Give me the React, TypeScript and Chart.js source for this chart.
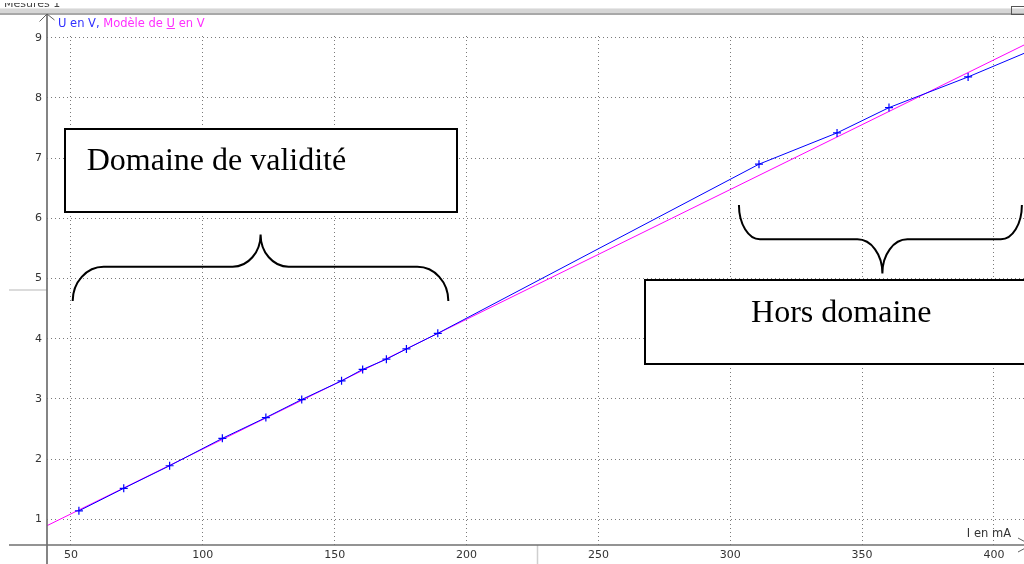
import React, { useEffect, useRef } from "react";
import { Chart, registerables } from "chart.js";

Chart.register(...registerables);

// Measured points (I in mA, U in V)
const currentMA = [53.0, 70.0, 87.4, 107.4, 123.9, 137.5, 152.6, 160.6, 169.6, 177.2, 189.1, 310.9, 340.5, 360.2, 390.2, 420.0];
const voltageV = [1.14, 1.515, 1.89, 2.345, 2.69, 2.99, 3.3, 3.49, 3.66, 3.83, 4.09, 6.9, 7.42, 7.84, 8.35, 8.9];

// Model line (end points)
const modelCurrentMA = [40.9, 411.4];
const modelVoltageV = [0.894, 8.88];

const xTickValues = [50, 100, 150, 200, 250, 300, 350, 400];
const yTickValues = [1, 2, 3, 4, 5, 6, 7, 8, 9];

const X_MIN = 40.9;
const X_MAX = 411.4;
const Y_MIN = 0.573;
const Y_MAX = 9.03;

// Annotations in data units
const validityBox = { i0: 47.84, i1: 196.5, u0: 6.11, u1: 7.483, textI: 55.95, textU: 6.802, label: "Domaine de validité" };
const outsideBox = { i0: 267.7, i1: 420, u0: 3.58, u1: 4.975, textI: 307.9, textU: 4.282, label: "Hors domaine" };
const validityBrace = { iL: 50.64, iR: 193.1, iTip: 121.9, uEnd: 4.626, uBar: 5.196, uTip: 5.734, rEnd: 31, rTip: 28 };
const outsideBrace = { iL: 303.3, iR: 410.6, iTip: 357.7, uEnd: 6.221, uBar: 5.651, uTip: 5.086, rEnd: 21, rTip: 25 };

const BLUE = "#0000ff";
const MAGENTA = "#ff00ff";

function drawBrace(ctx: CanvasRenderingContext2D, xL: number, xR: number, xTip: number, yEnd: number, yBar: number, yTip: number, rEnd: number, rTip: number) {
  const k = 0.448;
  ctx.beginPath();
  ctx.moveTo(xL, yEnd);
  ctx.bezierCurveTo(xL, yBar + k * (yEnd - yBar), xL + k * rEnd, yBar, xL + rEnd, yBar);
  ctx.lineTo(xTip - rTip, yBar);
  ctx.bezierCurveTo(xTip - k * rTip, yBar, xTip, yBar + k * (yTip - yBar), xTip, yTip);
  ctx.bezierCurveTo(xTip, yBar + k * (yTip - yBar), xTip + k * rTip, yBar, xTip + rTip, yBar);
  ctx.lineTo(xR - rEnd, yBar);
  ctx.bezierCurveTo(xR - k * rEnd, yBar, xR, yBar + k * (yEnd - yBar), xR, yEnd);
  ctx.stroke();
}

const decorPlugin = {
  id: "decor",
  beforeDraw(chart: any) {
    const ctx = chart.ctx as CanvasRenderingContext2D;
    ctx.save();
    ctx.fillStyle = "#ffffff";
    ctx.fillRect(0, 0, chart.width, chart.height);
    ctx.restore();
  },
  afterDatasetsDraw(chart: any) {
    const ctx = chart.ctx as CanvasRenderingContext2D;
    const xs = chart.scales.x;
    const ys = chart.scales.y;
    const px = (v: number) => xs.getPixelForValue(v);
    const py = (v: number) => ys.getPixelForValue(v);
    ctx.save();
    // boxes
    for (const b of [validityBox, outsideBox]) {
      const x0 = Math.round(px(b.i0));
      const x1 = Math.round(px(b.i1));
      const y0 = Math.round(py(b.u1));
      const y1 = Math.round(py(b.u0));
      ctx.fillStyle = "#ffffff";
      ctx.fillRect(x0, y0, x1 - x0, y1 - y0);
      ctx.strokeStyle = "#000000";
      ctx.lineWidth = 2;
      ctx.strokeRect(x0, y0, x1 - x0, y1 - y0);
      ctx.fillStyle = "#000000";
      ctx.font = "32px 'Liberation Serif', 'Times New Roman', serif";
      ctx.textAlign = "left";
      ctx.textBaseline = "alphabetic";
      ctx.fillText(b.label, px(b.textI), py(b.textU));
    }
    // braces
    ctx.strokeStyle = "#000000";
    ctx.lineWidth = 2;
    for (const br of [validityBrace, outsideBrace]) {
      drawBrace(ctx, px(br.iL), px(br.iR), px(br.iTip), py(br.uEnd), py(br.uBar), py(br.uTip), br.rEnd, br.rTip);
    }
    ctx.restore();
  },
  afterDraw(chart: any) {
    const ctx = chart.ctx as CanvasRenderingContext2D;
    const area = chart.chartArea;
    const W = chart.width;
    const H = chart.height;
    ctx.save();
    // cropped caption at top-left (only its lower part is visible)
    ctx.fillStyle = "#444";
    ctx.font = "11px 'DejaVu Sans'";
    ctx.textBaseline = "alphabetic";
    ctx.textAlign = "left";
    ctx.fillText("Mesures 1", 4, 7);
    ctx.fillStyle = "#ffffff";
    ctx.fillRect(0, 0, 70, 3);
    // top window bar
    ctx.fillStyle = "#d6d6d6";
    ctx.fillRect(0, 8, W, 6);
    ctx.fillStyle = "#a8a8a8";
    ctx.fillRect(0, 13, W, 2);
    ctx.fillStyle = "#e8e8e8";
    ctx.fillRect(0, 8, W, 1);
    ctx.strokeStyle = "#555";
    ctx.lineWidth = 1;
    ctx.strokeRect(1011.5, 6.5, 14, 8);

    // light stubs
    ctx.strokeStyle = "#cfcfcf";
    ctx.lineWidth = 1.5;
    ctx.beginPath();
    ctx.moveTo(9, 290);
    ctx.lineTo(area.left, 290);
    ctx.moveTo(537.5, area.bottom);
    ctx.lineTo(537.5, H);
    ctx.stroke();

    // axes
    const ax = area.left;
    const ay = area.bottom;
    ctx.strokeStyle = "#707070";
    ctx.lineWidth = 1.7;
    ctx.beginPath();
    ctx.moveTo(ax, 14);
    ctx.lineTo(ax, H);
    ctx.moveTo(9, ay);
    ctx.lineTo(W, ay);
    ctx.stroke();
    ctx.lineWidth = 1;
    ctx.strokeStyle = "#606060";
    ctx.beginPath();
    ctx.moveTo(ax - 7.5, 21.5);
    ctx.lineTo(ax, 14);
    ctx.lineTo(ax + 7.5, 20);
    ctx.moveTo(1018, 538);
    ctx.lineTo(1031, ay);
    ctx.lineTo(1018, 552);
    ctx.stroke();

    // legend caption
    ctx.font = "11.5px 'DejaVu Sans'";
    ctx.textAlign = "left";
    ctx.textBaseline = "alphabetic";
    let x = 58;
    const y = 27;
    const parts: [string, string, boolean][] = [
      ["U en V,", "#3030ff", false],
      [" Modèle de ", "#ff30ff", false],
      ["U", "#ff30ff", true],
      [" en V", "#ff30ff", false],
    ];
    for (const [t, c, u] of parts) {
      ctx.fillStyle = c;
      ctx.fillText(t, x, y);
      const w = ctx.measureText(t).width;
      if (u) {
        ctx.fillRect(x, y + 1, w, 1);
      }
      x += w;
    }
    // x axis title
    ctx.fillStyle = "#333333";
    ctx.font = "11.5px 'DejaVu Sans'";
    ctx.textAlign = "right";
    ctx.fillText("I en mA", 1011, 537);
    ctx.restore();
  },
};

export default function App() {
  const canvasRef = useRef<HTMLCanvasElement | null>(null);

  useEffect(() => {
    document.body.style.margin = "0";
    const canvas = canvasRef.current;
    if (!canvas) return;
    const measured = currentMA.map((v, i) => ({ x: v, y: voltageV[i] }));
    const model = modelCurrentMA.map((v, i) => ({ x: v, y: modelVoltageV[i] }));
    const chart = new Chart(canvas, {
      type: "scatter",
      data: {
        datasets: [
          {
            label: "U en V",
            data: measured,
            showLine: true,
            borderColor: BLUE,
            backgroundColor: BLUE,
            borderWidth: 1,
            pointStyle: "cross",
            pointRadius: 4,
            pointBorderWidth: 1.2,
            pointBorderColor: BLUE,
            pointHoverRadius: 4,
          },
          {
            label: "Modèle de U en V",
            data: model,
            showLine: true,
            borderColor: MAGENTA,
            backgroundColor: MAGENTA,
            borderWidth: 1,
            pointRadius: 0,
            pointHoverRadius: 0,
          },
        ],
      },
      options: {
        responsive: false,
        animation: false,
        devicePixelRatio: 1,
        events: [],
        layout: { autoPadding: false, padding: { top: 36, left: 0, right: 0, bottom: 0 } },
        plugins: {
          legend: { display: false },
          tooltip: { enabled: false },
          title: { display: false },
        },
        scales: {
          x: {
            type: "linear",
            min: X_MIN,
            max: X_MAX,
            afterFit: (s: any) => {
              s.height = 19;
              s.paddingLeft = 0;
              s.paddingRight = 0;
            },
            afterBuildTicks: (s: any) => {
              s.ticks = xTickValues.map((v) => ({ value: v }));
            },
            ticks: {
              includeBounds: false,
              padding: 4,
              color: "#333333",
              font: { family: "'DejaVu Sans'", size: 11 },
              maxRotation: 0,
              autoSkip: false,
            },
            grid: { color: "#7a7a7a", lineWidth: 1, drawTicks: false },
            border: { display: false, dash: [1, 3] },
          },
          y: {
            type: "linear",
            min: Y_MIN,
            max: Y_MAX,
            afterFit: (s: any) => {
              s.width = 47;
              s.paddingTop = 0;
              s.paddingBottom = 0;
            },
            afterBuildTicks: (s: any) => {
              s.ticks = yTickValues.map((v) => ({ value: v }));
            },
            ticks: {
              includeBounds: false,
              padding: 5,
              color: "#333333",
              font: { family: "'DejaVu Sans'", size: 11 },
              autoSkip: false,
            },
            grid: { color: "#7a7a7a", lineWidth: 1, drawTicks: false },
            border: { display: false, dash: [1, 3] },
          },
        },
      },
      plugins: [decorPlugin],
    } as any);
    return () => {
      chart.destroy();
    };
  }, []);

  return (
    <div style={{ position: "fixed", left: 0, top: 0, width: 1024, height: 564, background: "#fff" }}>
      <canvas ref={canvasRef} width={1024} height={564} style={{ display: "block" }} />
    </div>
  );
}
